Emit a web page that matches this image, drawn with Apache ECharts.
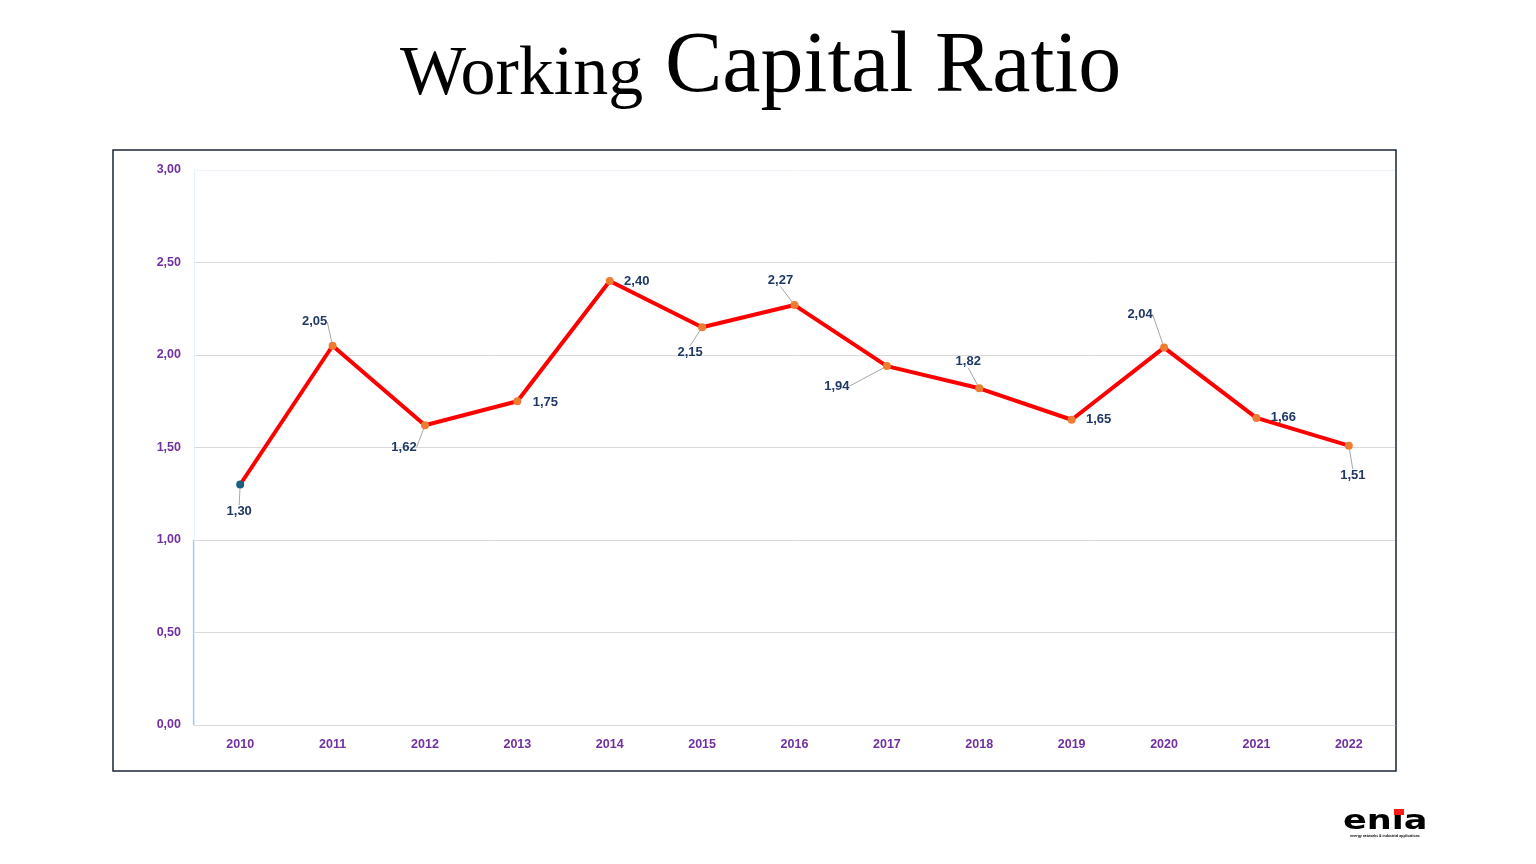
<!DOCTYPE html>
<html><head><meta charset="utf-8">
<script src="https://cdn.jsdelivr.net/npm/echarts@6/dist/echarts.min.js"></script>
<style>html,body{margin:0;padding:0;background:#fff}#c{width:1536px;height:864px}</style>
</head><body><div id="c"></div>
<script>
const years = ['2010','2011','2012','2013','2014','2015','2016','2017','2018','2019','2020','2021','2022'];
const ratios = [1.30, 2.05, 1.62, 1.75, 2.40, 2.15, 2.27, 1.94, 1.82, 1.65, 2.04, 1.66, 1.51];
const yTicks = [0, 0.5, 1, 1.5, 2, 2.5, 3];

// label placement (offset of label centre from point, px) and whether a leader line is shown
const labelOffsets = [[-1,27],[-18,-24],[-21,22],[28,1],[27,0],[-12,25],[-14,-25],[-50,20],[-11,-27],[27,0],[-24,-33],[27,0],[4,30]];
const leader = [true,true,true,false,false,true,true,true,true,false,true,false,true];

const fmt = v => v.toFixed(2).replace('.', ',');
const chart = echarts.init(document.getElementById('c'), null, {renderer:'canvas'});

const data = ratios.map((v,i) => ({
  value: v,
  itemStyle: { color: i === 0 ? '#1d5f80' : '#ed7d31' },
  labelLine: { show: leader[i], lineStyle: { color: '#a6a6a6', width: 1 } }
}));

chart.setOption({
  animation: false,
  backgroundColor: '#ffffff',
  grid: { left: 194, right: 141, top: 170, bottom: 139, containLabel: false },
  xAxis: {
    type: 'category', data: years, boundaryGap: true,
    axisLine: { lineStyle: { color: '#d9d9d9', width: 1 } },
    axisTick: { show: false },
    axisLabel: { color: '#7030a0', fontWeight: 'bold', fontSize: 12.5, fontFamily: 'Liberation Sans', margin: 13 }
  },
  yAxis: {
    type: 'value', min: 0, max: 3, interval: 0.5,
    axisLine: { show: true, lineStyle: { color: '#e8f2fb', width: 1 } },
    axisTick: { show: false },
    axisLabel: { color: '#7030a0', fontWeight: 'bold', fontSize: 12.5, fontFamily: 'Liberation Sans', margin: 13,
      formatter: v => fmt(v) },
    splitLine: { lineStyle: { color: ['#d9d9d9','#d9d9d9','#d9d9d9','#d9d9d9','#d9d9d9','#d9d9d9','#eef3f9'], width: 1 } }
  },
  series: [{
    type: 'line', data: data,
    symbol: 'circle', symbolSize: 8,
    lineStyle: { color: '#ff0000', width: 4 },
    z: 3,
    label: { show: true, position: 'inside', formatter: p => fmt(p.value),
      color: '#1f3864', fontWeight: 'bold', fontSize: 13, fontFamily: 'Liberation Sans' },
    labelLine: { show: true, lineStyle: { color: '#a6a6a6', width: 1 } },
    labelLayout: p => ({ dx: labelOffsets[p.dataIndex][0], dy: labelOffsets[p.dataIndex][1] })
  }],
  graphic: [
    { type: 'rect', shape: { x: 113, y: 150, width: 1283, height: 621 },
      style: { fill: 'none', stroke: '#1a2535', lineWidth: 1.5 }, silent: true, z: 0 },
    { type: 'rect', shape: { x: 193.5, y: 540, width: 0, height: 185 },
      style: { fill: 'none', stroke: '#8fd0f0', lineWidth: 1.2 }, z: 10, silent: true },
    { type: 'text', x: 400, y: 111, style: { text: 'Working', font: '70px "Liberation Serif"', fill: '#000', textAlign: 'left', textVerticalAlign: 'bottom' }, z: 10 },
    { type: 'text', x: 665, y: 111, style: { text: 'Capital Ratio', font: '86px "Liberation Serif"', fill: '#000', textAlign: 'left', textVerticalAlign: 'bottom' }, z: 10 },
    { type: 'text', x: 1343, y: 835, scaleX: 1.3, style: { text: 'en\u0131a', font: 'bold 27px "DejaVu Sans"', fill: '#000', textAlign: 'left', textVerticalAlign: 'bottom' }, z: 10 },
    { type: 'rect', shape: { x: 1394, y: 809, width: 10, height: 6 }, style: { fill: '#ff1a1a' }, z: 11 },
    { type: 'text', x: 1385, y: 834, style: { text: 'energy networks & industrial applications', font: 'bold 3.5px "Liberation Sans"', fill: '#000', textAlign: 'center', textVerticalAlign: 'top' }, z: 10 }
  ]
});
</script></body></html>
